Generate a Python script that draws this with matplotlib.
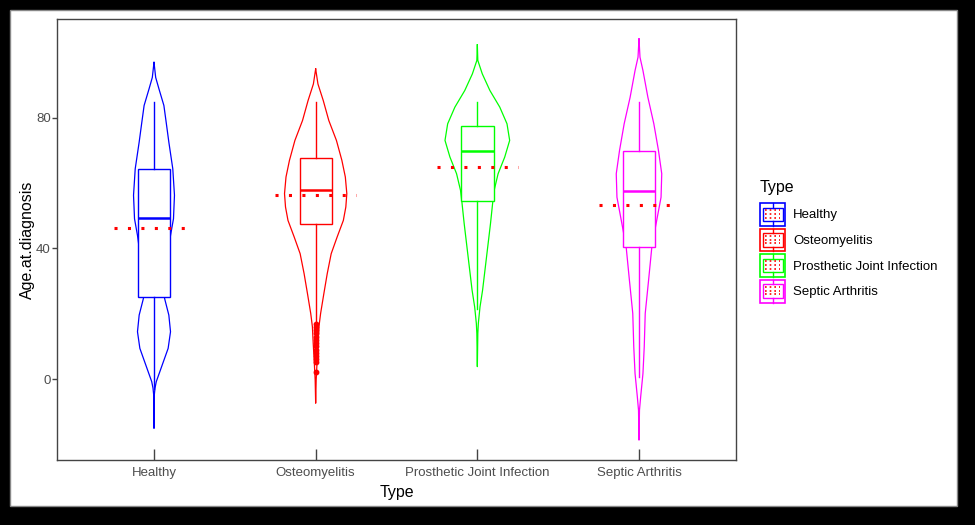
import matplotlib
matplotlib.use('Agg')
from matplotlib import pyplot as plt
from matplotlib.patches import Rectangle
from matplotlib.lines import Line2D
from matplotlib.legend_handler import HandlerBase
import numpy as np

plt.rcParams['font.family'] = ['Liberation Sans', 'DejaVu Sans']

# Datos
types = ['Healthy', 'Osteomyelitis', 'Prosthetic Joint Infection', 'Septic Arthritis']
colors = ['#0000FF', '#FF0000', '#00FF00', '#FF00FF']

# perfiles de densidad del violin (edad, densidad relativa)
healthy_age = [97.0, 92.4, 88.9, 83.8, 78.7, 72.6, 64.4, 56.3, 49.1, 44.0, 38.0, 30.0, 24.7, 19.6, 14.5, 9.4, 4.3, -0.8, -2.8, -4.9, -15.1]
healthy_dens = [0, 1.7, 5, 10, 12.3, 15, 19, 20.7, 19.7, 16.7, 14, 11.5, 10.7, 15, 16.7, 14.3, 8.3, 2.3, 1, 0.3, 0]

osteo_age = [95.0, 90.4, 85.3, 79.2, 73.1, 67.0, 61.9, 56.8, 52.7, 48.6, 43.5, 38.4, 32.3, 26.2, 20.1, 16.0, 11.0, 5.8, -0.3, -7.4]
osteo_dens = [0, 2.3, 7.7, 13.3, 21, 26.5, 30, 31.5, 30.5, 28, 21.7, 15.7, 11.7, 8.3, 5, 3.3, 2.5, 1.5, 0.5, 0]

pji_age = [102.4, 97.6, 93.5, 88.4, 83.3, 78.2, 73.1, 68.0, 62.9, 57.8, 54.5, 47.6, 37.4, 27.2, 22.1, 17.0, 14.0, 3.8]
pji_dens = [0, 0.5, 5, 12.7, 22.7, 30, 32.7, 27.7, 21, 17, 15.7, 13.3, 9.3, 5.3, 2.7, 1, 0.5, 0]

septic_age = [104.2, 98.6, 94.5, 86.3, 78.2, 70.0, 62.9, 55.7, 47.6, 40.5, 30.3, 20.1, 9.9, 1.7, -5.4, -9.5, -18.7]
septic_dens = [0, 1, 4, 9, 15, 19.7, 23, 22.3, 17.3, 13, 9.7, 6.3, 5.3, 4, 1.7, 0.5, 0]

# estadisticos del boxplot
whisker_low = [-3.0, 17.0, 21.6, 0.7]
q1 = [25.2, 47.4, 54.5, 40.5]
median = [49.3, 58.0, 70.0, 57.7]
q3 = [64.4, 67.8, 77.5, 69.8]
whisker_high = [84.8, 84.8, 84.8, 84.8]

# outliers de Osteomyelitis
osteo_outliers = [17.0, 16.0, 15.0, 14.0, 13.0, 12.0, 11.0, 10.0, 9.0, 8.0, 7.0, 6.0, 5.3, 2.2]

# media de cada grupo
means = [46.3, 56.5, 65.1, 53.3]


class ViolinBoxKey(HandlerBase):
    # dibuja la clave de la leyenda (violin + box + media)
    def create_artists(self, legend, orig_handle, xdescent, ydescent, width, height, fontsize, trans):
        col = orig_handle.get_color()
        x0, y0 = -xdescent, -ydescent
        arts = []
        arts.append(Rectangle((x0, y0), width, height, fill=False, ec=col, lw=1.2, transform=trans))
        arts.append(Rectangle((x0 + width * 0.1, y0 + height * 0.2), width * 0.8, height * 0.6,
                              fill=False, ec=col, lw=1.0, transform=trans))
        arts.append(Line2D([x0 + width / 2, x0 + width / 2], [y0 + height * 0.8, y0 + height], color=col, lw=1.0, transform=trans))
        arts.append(Line2D([x0 + width / 2, x0 + width / 2], [y0, y0 + height * 0.2], color=col, lw=1.0, transform=trans))
        for fy in [0.36, 0.52, 0.68]:
            arts.append(Line2D([x0 + width * 0.2, x0 + width * 0.8], [y0 + height * fy] * 2, color='red',
                               lw=1.2, ls=(0, (1, 1.8)), transform=trans))
        return arts


fig = plt.figure(figsize=(9.75, 5.25), dpi=100)
fig.patch.set_facecolor('black')

# panel blanco
fig.patches.append(Rectangle((10 / 975, 19 / 525), 947 / 975, 496 / 525, transform=fig.transFigure,
                             facecolor='white', edgecolor='#888888', lw=1, zorder=-5))

ax = fig.add_axes([57 / 975, 65 / 525, 679 / 975, 441 / 525])
ax.set_facecolor('white')

ages = [healthy_age, osteo_age, pji_age, septic_age]
dens = [healthy_dens, osteo_dens, pji_dens, septic_dens]
max_dens = max(max(d) for d in dens)
half_width = 0.2

for i in range(4):
    pos = i + 1
    a = np.array(ages[i])
    w = np.array(dens[i]) / max_dens * half_width
    # violin
    xs = np.concatenate([pos - w, (pos + w)[::-1]])
    ys = np.concatenate([a, a[::-1]])
    ax.plot(xs, ys, color=colors[i], lw=0.9, zorder=2)

    # boxplot
    stats = [{'whislo': whisker_low[i], 'q1': q1[i], 'med': median[i], 'q3': q3[i],
              'whishi': whisker_high[i], 'fliers': osteo_outliers if i == 1 else []}]
    ax.bxp(stats, positions=[pos], widths=0.2, showcaps=False, patch_artist=True, manage_ticks=False,
           boxprops=dict(facecolor='white', edgecolor=colors[i], lw=1.0),
           whiskerprops=dict(color=colors[i], lw=1.0),
           medianprops=dict(color=colors[i], lw=1.8),
           flierprops=dict(marker='o', markerfacecolor=colors[i], markeredgecolor=colors[i], markersize=3.2),
           zorder=3)

    # linea de la media
    ax.plot([pos - 0.25, pos + 0.25], [means[i], means[i]], color='red', lw=2.2,
            ls=(0, (1, 3.4)), zorder=4)

ax.set_xlim(0.4, 4.6)
ax.set_ylim(-24.8, 110.3)
ax.set_xticks([1, 2, 3, 4])
ax.set_xticklabels(types)
ax.set_yticks([0, 40, 80])

for s in ax.spines.values():
    s.set_color('#444444')
    s.set_linewidth(1.0)

ax.tick_params(axis='y', direction='out', length=3.5, width=1.0, color='#444444', labelcolor='#4D4D4D', labelsize=9.5, pad=1)
ax.tick_params(axis='x', direction='in', length=8, width=1.0, color='#444444', labelcolor='#4D4D4D', labelsize=9.5, pad=5)

ax.set_xlabel('Type', fontsize=11.5, labelpad=4)
ax.set_ylabel('Age.at.diagnosis', fontsize=11.5, labelpad=0.5)

# leyenda
handles = [Line2D([], [], color=c) for c in colors]
leg = fig.legend(handles, types, handler_map={Line2D: ViolinBoxKey()}, title='Type', title_fontsize=11.5,
                 fontsize=9.5, loc='upper left', bbox_to_anchor=(760 / 975, 1 - 180 / 525), frameon=False,
                 borderpad=0, borderaxespad=0, handlelength=1.9, handleheight=2.3, handletextpad=0.6,
                 labelspacing=0.2, alignment='left')
leg._legend_box.sep = 5.7

fig.savefig('out.png', dpi=100, facecolor=fig.get_facecolor())
